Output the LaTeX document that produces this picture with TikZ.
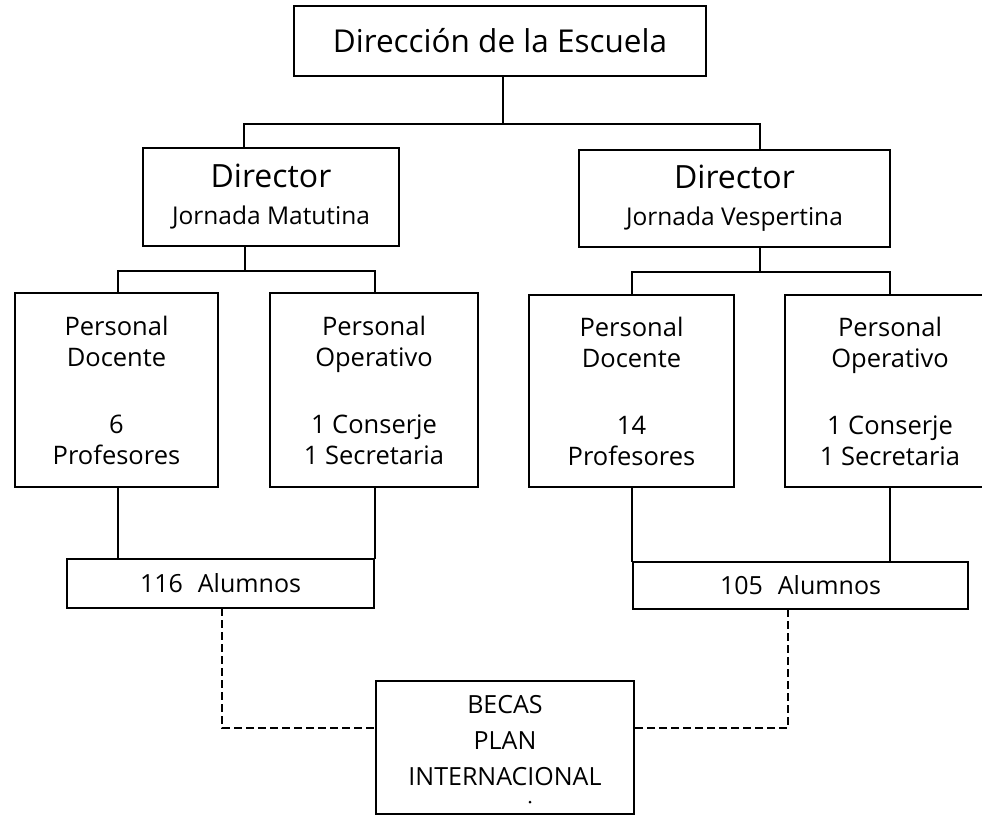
\documentclass[tikz,border=0pt]{standalone}
\usepackage{fontspec}
\setmainfont{Open Sans}
\begin{document}
\begin{tikzpicture}[x=1pt,y=-1pt,
  orgbox/.style={draw, line width=2.4pt, inner sep=0pt, outer sep=0pt, align=center, rectangle},
  link/.style={line width=2.2pt},
  dlink/.style={line width=1.8pt, dash pattern=on 8pt off 4pt},
  smallfont/.style={font=\fontsize{25.5}{31}\selectfont},
]
\useasboundingbox (0,0) rectangle (982,815);

% top
\node[orgbox, minimum width=412pt, minimum height=70pt, font=\fontsize{31.5}{37}\selectfont] (top) at (500,41) {Dirección de la Escuela};

% directors
\node[orgbox, minimum width=256pt, minimum height=98pt, font=\fontsize{32}{37}\selectfont] (dirL) at (271,197)
  {Director\\{\fontsize{24.5}{37}\selectfont Jornada Matutina}};
\node[orgbox, minimum width=311pt, minimum height=97pt, font=\fontsize{32}{37}\selectfont] (dirR) at (734.5,198.5)
  {Director\\{\fontsize{24.5}{37}\selectfont Jornada Vespertina}};

% staff
\node[orgbox, smallfont, minimum width=203pt, minimum height=194pt] (docL) at (116.5,390)
  {Personal\\Docente\\[36pt]6\\Profesores};
\node[orgbox, smallfont, minimum width=208pt, minimum height=194pt] (opL) at (374,390)
  {Personal\\Operativo\\[36pt]1 Conserje\\1 Secretaria};
\node[orgbox, smallfont, minimum width=205pt, minimum height=192pt] (docR) at (631.5,391)
  {Personal\\Docente\\[36pt]14\\Profesores};
\node[orgbox, smallfont, minimum width=210pt, minimum height=192pt] (opR) at (890,391)
  {Personal\\Operativo\\[36pt]1 Conserje\\1 Secretaria};

% students
\node[orgbox, font=\fontsize{25}{30}\selectfont, minimum width=307pt, minimum height=49pt] (alL) at (220.5,583.5)
  {116\hspace{0.6em}Alumnos};
\node[orgbox, font=\fontsize{25}{30}\selectfont, minimum width=335pt, minimum height=47pt] (alR) at (800.5,585.5)
  {105\hspace{0.6em}Alumnos};

% becas
\node[orgbox, font=\fontsize{25}{36}\selectfont, minimum width=258pt, minimum height=133pt] (becas) at (505,747.5)
  {BECAS\\PLAN\\INTERNACIONAL\rule[-14pt]{0pt}{0pt}};
\fill (530,802) circle (1.5);

% junction coordinates
\coordinate (jTop) at (503,124);
\coordinate (cL) at (244,0);
\coordinate (cR) at (760,0);
\coordinate (jL) at (245,271);
\coordinate (jR) at (760,272);
\coordinate (c1) at (118,0);
\coordinate (c2) at (375,0);
\coordinate (c3) at (632,0);
\coordinate (c4) at (890,0);
\coordinate (d1) at (222,0);
\coordinate (d2) at (788,0);
\coordinate (dy) at (0,728);

% solid connectors
\draw[link] (top.south -| jTop) -- (jTop);
\draw[link] (dirL.north -| cL) |- (jTop) -| (dirR.north -| cR);
\draw[link] (dirL.south -| jL) -- (jL);
\draw[link] (docL.north -| c1) |- (jL) -| (opL.north -| c2);
\draw[link] (dirR.south -| jR) -- (jR);
\draw[link] (docR.north -| c3) |- (jR) -| (opR.north -| c4);
\draw[link] (docL.south -| c1) -- (alL.north -| c1);
\draw[link] (opL.south -| c2) -- (alL.north -| c2);
\draw[link] (docR.south -| c3) -- (alR.north -| c3);
\draw[link] (opR.south -| c4) -- (alR.north -| c4);

% dashed connectors
\draw[dlink] (alL.south -| d1) |- (becas.west |- dy);
\draw[dlink] (alR.south -| d2) |- (becas.east |- dy);
\end{tikzpicture}
\end{document}
